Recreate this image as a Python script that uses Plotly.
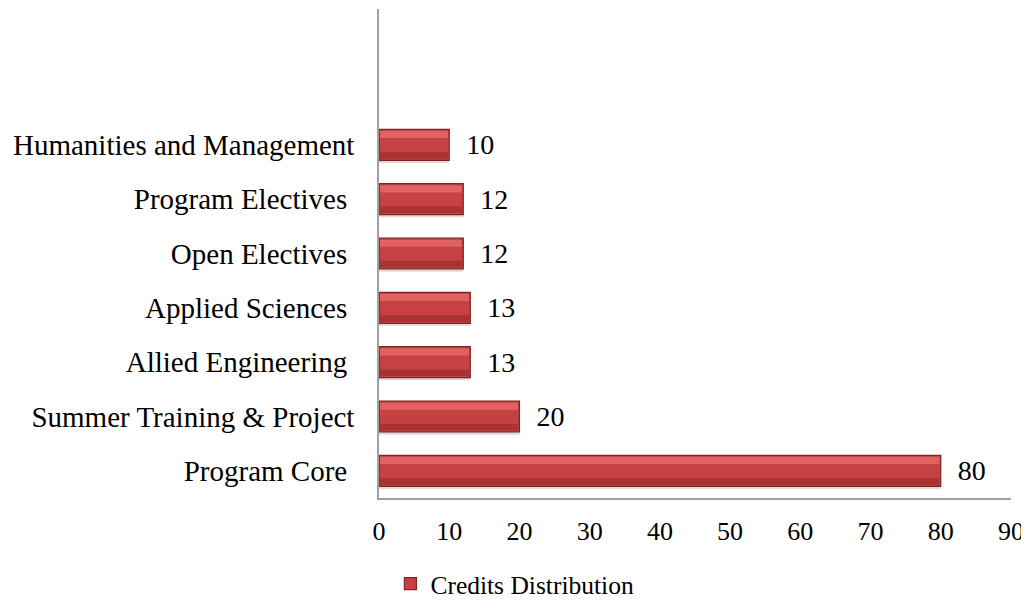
import plotly.graph_objects as go

categories = ["Program Core", "Summer Training & Project", "Allied Engineering",
              "Applied Sciences", "Open Electives", "Program Electives",
              "Humanities and Management"]
credits = [80, 20, 13, 13, 12, 12, 10]
series_name = "Credits Distribution"
x_ticks = [0, 10, 20, 30, 40, 50, 60, 70, 80, 90]

FONT = "Liberation Serif, Times New Roman, serif"
NB = "\u00a0"

# labels that carry a trailing space in the original
tick_text = [c + NB if c not in ("Summer Training & Project", "Humanities and Management") else c
             for c in categories]

BW = 0.57  # bar thickness in category units
half = BW / 2

fig = go.Figure()
# soft shadow under each bar
fig.add_trace(go.Bar(
    y=categories, x=credits, orientation="h", width=0.07, offset=-half - 0.05,
    marker=dict(color="#DCDCDC", line=dict(width=0)),
    showlegend=False, hoverinfo="skip",
))
# main bar
fig.add_trace(go.Bar(
    y=categories, x=credits, orientation="h", name=series_name,
    width=BW, offset=-half,
    marker=dict(color="#C64141", line=dict(color="#7E2424", width=1.2)),
    text=[NB + NB + str(v) for v in credits], textposition="outside",
    textfont=dict(family=FONT, size=28, color="black"),
    cliponaxis=False,
))
# top highlight band
fig.add_trace(go.Bar(
    y=categories, x=[v - 0.35 for v in credits], base=0.15, orientation="h",
    width=0.13, offset=half - 0.16,
    marker=dict(color="#E06262", line=dict(width=0)),
    showlegend=False, hoverinfo="skip",
))
# lower darker band
fig.add_trace(go.Bar(
    y=categories, x=[v - 0.35 for v in credits], base=0.15, orientation="h",
    width=0.12, offset=-half + 0.03,
    marker=dict(color="#A83232", line=dict(width=0)),
    showlegend=False, hoverinfo="skip",
))

fig.update_layout(
    width=1021, height=592,
    margin=dict(l=371, r=18, t=1, b=102, autoexpand=False),
    paper_bgcolor="white", plot_bgcolor="white",
    barmode="overlay",
    font=dict(family=FONT, size=26, color="black"),
    showlegend=True,
    legend=dict(orientation="h", x=0.215, xanchor="center", y=-0.176, yanchor="middle",
                font=dict(family=FONT, size=25.5, color="black"),
                itemwidth=30),
    xaxis=dict(range=[0, 90], tickvals=x_ticks, showgrid=False, zeroline=False,
               showline=True, linecolor="#A0A0A0", linewidth=1.5,
               ticks="", tickfont=dict(family=FONT, size=26),
               ticklabelstandoff=9, automargin=False),
    yaxis=dict(type="category", categoryarray=categories, range=[-0.5, 8.5],
               tickvals=categories, ticktext=tick_text,
               showgrid=False, zeroline=False, showline=True, linecolor="#A0A0A0",
               linewidth=1.5, ticks="", tickfont=dict(family=FONT, size=29),
               ticklabelstandoff=17, automargin=False),
)

fig.write_html("out.html")
